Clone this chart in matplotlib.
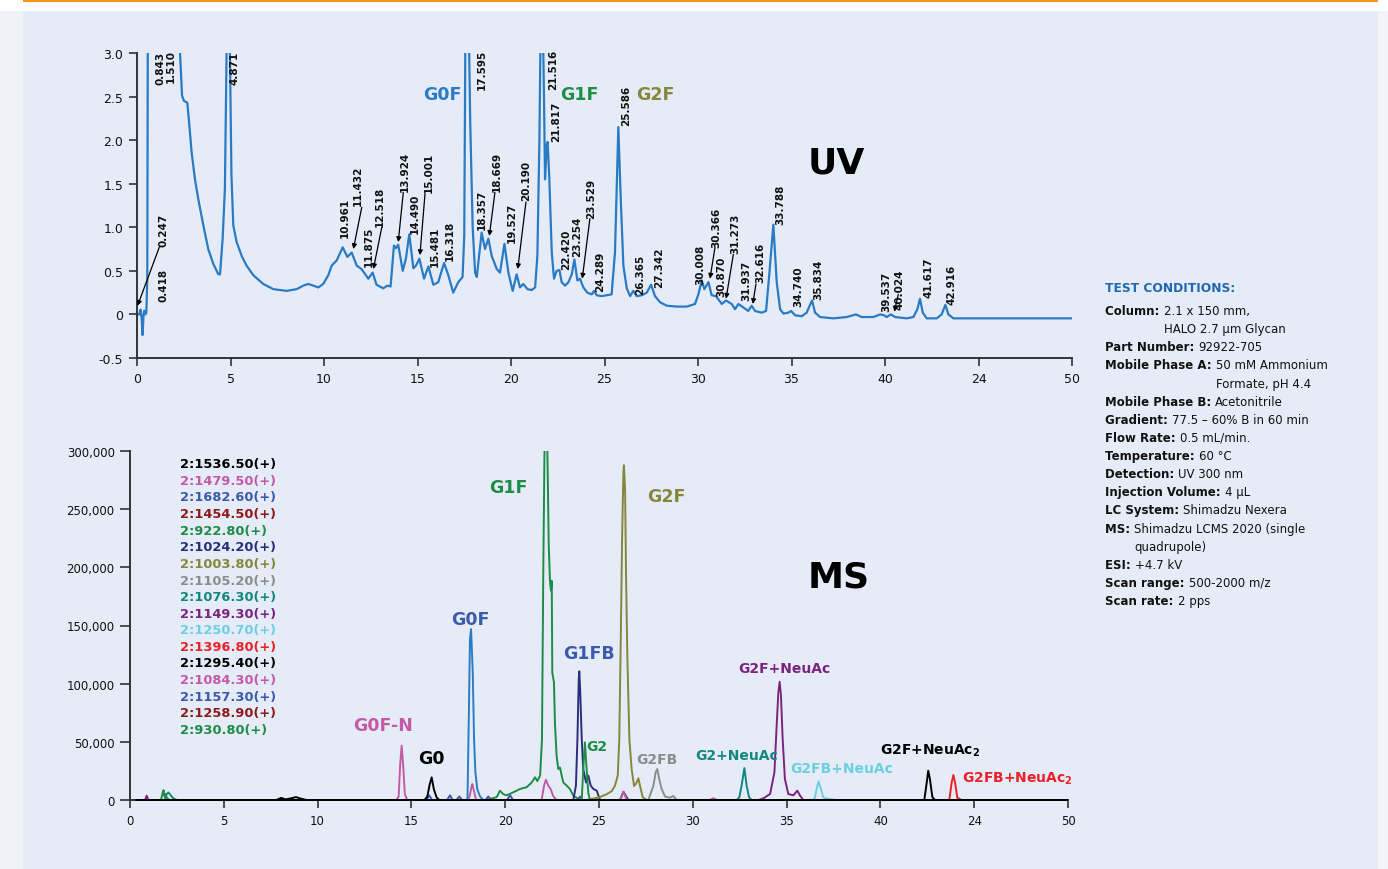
"""
HILIC glycan profile: UV trace (top) and extracted-ion MS traces (bottom)
with the test conditions listed on the right.
"""

import matplotlib
matplotlib.use('Agg')
import matplotlib.pyplot as plt
from matplotlib.patches import Rectangle
from matplotlib.ticker import FuncFormatter

# ============================================================
# DATA
# ============================================================

# UV chromatogram (time [min], absorbance)
uv_time = [0.00, 0.12, 0.19, 0.25, 0.30, 0.35, 0.39, 0.44, 0.50, 0.55, 0.58, 1.50,
           2.25, 2.30, 2.41, 2.51, 2.69, 2.80, 2.92, 3.10, 3.28, 3.55, 3.81, 4.08,
           4.35, 4.44, 4.58, 4.70, 4.79, 4.88, 4.97, 5.05, 5.15, 5.33, 5.60, 5.86,
           6.22, 6.75, 7.29, 8.00, 8.54, 8.89, 9.16, 9.43, 9.70, 9.96, 10.23, 10.41,
           10.68, 11.00, 11.25, 11.48, 11.75, 12.01, 12.37, 12.60, 12.81, 13.17, 13.39,
           13.56, 13.74, 13.85, 13.97, 14.21, 14.38, 14.56, 14.78, 14.92, 15.10, 15.35,
           15.58, 15.85, 16.11, 16.42, 16.65, 16.91, 17.18, 17.41, 17.50, 17.56, 17.65,
           17.75, 17.82, 17.95, 18.08, 18.17, 18.43, 18.61, 18.79, 18.97, 19.24, 19.41,
           19.65, 19.86, 20.09, 20.30, 20.48, 20.66, 20.88, 21.11, 21.29, 21.41, 21.52,
           21.59, 21.70, 21.77, 21.82, 21.91, 21.96, 22.05, 22.18, 22.30, 22.44, 22.59,
           22.71, 22.89, 23.07, 23.25, 23.39, 23.55, 23.69, 23.87, 24.08, 24.32, 24.44,
           24.58, 24.85, 25.12, 25.38, 25.56, 25.74, 25.87, 26.01, 26.19, 26.37, 26.54,
           26.72, 26.99, 27.26, 27.49, 27.70, 27.97, 28.33, 28.86, 29.40, 29.84, 30.02,
           30.20, 30.34, 30.56, 30.73, 30.96, 31.27, 31.50, 31.80, 31.98, 32.16, 32.43,
           32.69, 32.87, 33.05, 33.41, 33.64, 33.82, 34.03, 34.21, 34.39, 34.57, 34.83,
           34.98, 35.19, 35.55, 35.81, 35.99, 36.10, 36.26, 36.53, 37.24, 37.95, 38.45,
           38.75, 39.38, 39.74, 39.95, 40.09, 40.31, 40.54, 41.16, 41.52, 41.73, 41.87,
           42.02, 42.23, 42.77, 43.03, 43.23, 43.39, 43.66, 45.08, 46.87, 48.50, 50.00]
uv_abs = [0.00, 0.00, 0.055, -0.05, -0.236, 0.00, 0.043, 0.00, 0.02, 0.40, 3.50, 4.50,
          3.30, 3.00, 2.51, 2.45, 2.43, 2.17, 1.86, 1.55, 1.32, 1.02, 0.75, 0.58,
          0.46, 0.46, 0.87, 1.44, 3.00, 3.60, 3.00, 1.60, 1.02, 0.83, 0.67, 0.56,
          0.45, 0.35, 0.29, 0.27, 0.29, 0.33, 0.35, 0.33, 0.31, 0.35, 0.45, 0.56,
          0.62, 0.77, 0.66, 0.71, 0.56, 0.52, 0.41, 0.48, 0.34, 0.30, 0.33,
          0.32, 0.79, 0.76, 0.80, 0.50, 0.64, 0.92, 0.53, 0.56, 0.64, 0.41,
          0.55, 0.34, 0.37, 0.59, 0.45, 0.25, 0.37, 0.43, 0.90, 3.20, 3.60,
          3.20, 2.20, 1.00, 0.48, 0.43, 0.94, 0.75, 0.87, 0.67, 0.52, 0.48,
          0.81, 0.48, 0.27, 0.46, 0.31, 0.35, 0.29, 0.28, 0.31, 0.67, 2.01,
          3.40, 3.40, 2.40, 1.55, 1.94, 1.98, 1.55, 0.71, 0.41, 0.50, 0.51,
          0.37, 0.33, 0.37, 0.46, 0.63, 0.39, 0.41, 0.31, 0.25, 0.23, 0.27,
          0.22, 0.21, 0.22, 0.23, 0.71, 2.15, 1.32, 0.56, 0.30, 0.21, 0.27,
          0.21, 0.22, 0.25, 0.34, 0.21, 0.14, 0.10, 0.09, 0.09, 0.12, 0.23,
          0.39, 0.29, 0.37, 0.22, 0.21, 0.12, 0.16, 0.12, 0.06, 0.12, 0.08,
          0.04, 0.10, 0.04, 0.02, 0.04, 0.48, 1.03, 0.37, 0.06, 0.01, 0.02,
          0.04, -0.01, -0.02, 0.02, 0.11, 0.16, 0.02, -0.03, -0.045, -0.03, 0.00,
          -0.03, -0.03, 0.00, -0.01, -0.03, 0.00, -0.03, -0.045, -0.03, 0.06, 0.18,
          0.02, -0.045, -0.045, 0.00, 0.11, 0.00, -0.045, -0.045, -0.045, -0.045, -0.045]

uv_peak_names = ['0.843', '1.510', '4.871', '0.247', '0.418', '10.961', '11.432',
                 '11.875', '12.518', '13.924', '14.490', '15.001', '15.481', '16.318',
                 '17.595', '18.357', '18.669', '19.527', '20.190', '21.516', '21.817',
                 '22.420', '23.254', '23.529', '24.289', '25.586', '26.365', '27.342',
                 '30.008', '30.366', '30.870', '31.273', '31.937', '32.616', '33.788',
                 '34.740', '35.834', '39.537', '40.024', '41.617', '42.916']

# MS extracted-ion traces, listed in legend order (time [min], intensity)
ms_ions = ['2:1536.50(+)', '2:1479.50(+)', '2:1682.60(+)', '2:1454.50(+)',
           '2:922.80(+)', '2:1024.20(+)', '2:1003.80(+)', '2:1105.20(+)',
           '2:1076.30(+)', '2:1149.30(+)', '2:1250.70(+)', '2:1396.80(+)',
           '2:1295.40(+)', '2:1084.30(+)', '2:1157.30(+)', '2:1258.90(+)',
           '2:930.80(+)']

t_1536 = [0.35, 7.8, 8.05, 8.3, 8.6, 8.85, 9.1, 9.4, 15.7, 15.85, 15.97, 16.08, 16.2, 16.35, 16.5, 50]
i_1536 = [0, 0, 1800, 500, 1500, 2500, 1200, 0, 0, 3000, 13000, 19500, 9000, 2000, 0, 0]

t_1479 = [0.35, 14.2, 14.32, 14.4, 14.48, 14.56, 14.65, 14.78, 18.0, 18.1, 18.2, 18.25, 18.33, 18.45, 50]
i_1479 = [0, 0, 3000, 30000, 46700, 30000, 5000, 0, 0, 3000, 11000, 13700, 8000, 0, 0]

t_1682 = [0.35, 17.95, 17.99, 18.07, 18.12, 18.18, 18.27, 18.34, 18.41, 18.51, 18.66, 18.84, 50]
i_1682 = [0, 0, 2000, 81000, 138000, 146900, 109700, 52400, 24000, 9500, 3000, 0, 0]

t_1454 = [0.35, 50]
i_1454 = [0, 0]

t_922 = [0.35, 19.0, 19.55, 19.72, 19.9, 20.08, 20.43, 20.79, 21.14, 21.41, 21.59, 21.71,
         21.86, 21.96, 22.03, 22.10, 22.17, 22.24, 22.32, 22.39, 22.44, 22.48, 22.51,
         22.6, 22.65, 22.74, 22.83, 22.92, 23.01, 23.1, 23.28, 23.45, 23.63, 23.99, 50]
i_922 = [0, 0, 2500, 8000, 5000, 4000, 6600, 9500, 11000, 15000, 19500, 16300,
         21000, 52000, 196000, 310000, 340000, 310000, 220000, 187000, 180000, 188400, 109700,
         101000, 66700, 38000, 26600, 28000, 21000, 15000, 12300, 9500, 3700, 0, 0]

t_1024 = [0.35, 23.63, 23.77, 23.85, 23.92, 23.95, 24.0, 24.08, 24.16, 24.31, 24.43, 24.56,
          24.7, 24.88, 25.05, 26.12, 26.3, 26.56, 50]
i_1024 = [0, 0, 12300, 52400, 104000, 110600, 92500, 52400, 26600, 15000, 21000, 12300,
          9500, 8000, 0, 0, 7100, 0, 0]

t_1003 = [0.35, 24.34, 25.05, 25.41, 25.68, 25.85, 26.0, 26.08, 26.16, 26.23, 26.3, 26.33,
          26.39, 26.44, 26.51, 26.62, 26.74, 26.87, 26.97, 27.1, 27.19, 27.33, 27.54, 50]
i_1003 = [0, 0, 2500, 5000, 7600, 12300, 21000, 52000, 138000, 224000, 281500, 287800,
          267000, 195600, 124000, 52000, 26600, 12000, 14000, 18600, 12000, 2500, 0, 0]

t_1105 = [0.35, 27.63, 27.9, 28.02, 28.11, 28.21, 28.34, 28.52, 28.78, 28.96, 29.14, 50]
i_1105 = [0, 0, 12300, 23800, 26600, 18000, 9500, 3000, 2000, 3500, 0, 0]

t_1076 = [0.35, 1.85, 1.95, 2.05, 2.15, 2.3, 2.5, 32.35, 32.48, 32.6, 32.75, 32.87, 33.0, 33.14, 50]
i_1076 = [0, 0, 5000, 6500, 4500, 1500, 0, 0, 2300, 12300, 27500, 12300, 2300, 0, 0]

t_1149 = [0.35, 0.8, 0.89, 0.98, 33.5, 33.76, 34.12, 34.35, 34.47, 34.56, 34.63, 34.7,
          34.79, 34.91, 35.09, 35.36, 35.57, 35.71, 35.89, 50]
i_1149 = [0, 0, 3700, 0, 0, 1400, 5200, 23800, 63800, 92500, 101600, 89600,
          52400, 18000, 5200, 4000, 8000, 4000, 0, 0]

t_1250 = [0.35, 36.4, 36.51, 36.62, 36.71, 36.82, 36.96, 37.22, 37.67, 50]
i_1250 = [0, 0, 2000, 11000, 16000, 10000, 2000, 1000, 0, 0]

t_1396 = [0.35, 43.67, 43.8, 43.89, 43.98, 44.1, 44.33, 50]
i_1396 = [0, 0, 15000, 21500, 15000, 2000, 0, 0]

t_1295 = [0.35, 42.34, 42.47, 42.55, 42.64, 42.77, 42.91, 50]
i_1295 = [0, 0, 15000, 25200, 18000, 2500, 0, 0]

t_1084 = [0.35, 21.94, 22.07, 22.17, 22.3, 22.42, 22.57, 22.74, 26.1, 26.21, 26.3, 26.48,
          30.9, 31.1, 31.3, 50]
i_1084 = [0, 0, 12300, 17400, 12300, 9500, 3000, 0, 0, 3000, 7100, 0,
          0, 1500, 0, 0]

t_1157 = [0.35, 15.8, 15.95, 16.1, 16.9, 17.06, 17.2, 17.4, 17.55, 17.7, 18.95, 19.1, 19.25,
          20.1, 20.26, 20.42, 23.85, 23.99, 24.12, 50]
i_1157 = [0, 0, 4000, 0, 0, 4000, 0, 0, 3000, 0, 0, 3000, 0,
          0, 4000, 0, 0, 3000, 0, 0]

t_1258 = [0.35, 50]
i_1258 = [0, 0]

t_930 = [0.35, 1.65, 1.74, 1.79, 1.84, 1.9, 1.96, 2.1, 24.08, 24.16, 24.25, 24.34, 24.43, 24.52, 50]
i_930 = [0, 0, 6000, 8500, 3000, 5000, 2000, 0, 0, 26600, 49500, 26600, 6000, 0, 0]

ms_times = [t_1536, t_1479, t_1682, t_1454, t_922, t_1024, t_1003, t_1105,
            t_1076, t_1149, t_1250, t_1396, t_1295, t_1084, t_1157, t_1258, t_930]
ms_ints = [i_1536, i_1479, i_1682, i_1454, i_922, i_1024, i_1003, i_1105,
           i_1076, i_1149, i_1250, i_1396, i_1295, i_1084, i_1157, i_1258, i_930]

x_ticks = [0, 5, 10, 15, 20, 25, 30, 35, 40, 45, 50]
x_tick_labels = ['0', '5', '10', '15', '20', '25', '30', '35', '40', '24', '50']

cond_labels = ['Column:', None, 'Part Number:', 'Mobile Phase A:', None, 'Mobile Phase B:',
               'Gradient:', 'Flow Rate:', 'Temperature:', 'Detection:', 'Injection Volume:',
               'LC System:', 'MS:', None, 'ESI:', 'Scan range:', 'Scan rate:']
cond_values = ['2.1 x 150 mm,', 'HALO 2.7 µm Glycan', '92922-705', '50 mM Ammonium',
               'Formate, pH 4.4', 'Acetonitrile', '77.5 – 60% B in 60 min', '0.5 mL/min.',
               '60 °C', 'UV 300 nm', '4 µL', 'Shimadzu Nexera', 'Shimadzu LCMS 2020 (single',
               'quadrupole)', '+4.7 kV', '500-2000 m/z', '2 pps']

# ============================================================
# STYLE / LAYOUT
# ============================================================

W, H = 1388, 870
UV_BLUE = '#2a7bc4'
ms_colors = ['#000000', '#c35aa6', '#3c5aaa', '#8c1c1c', '#1d8c46', '#2b2d7c',
             '#86863a', '#8c8c8c', '#12877f', '#7b237f', '#6ccfe0', '#ec2027',
             '#000000', '#c35aa6', '#3c5aaa', '#8c1c1c', '#1d8c46']
trace_colors = list(ms_colors)
trace_colors[2] = '#2b7cc6'   # G0F trace is drawn lighter than its legend entry
AXIS = '#333333'
MS_PAD = 1800                 # room below zero so the baseline traces are not cut in half


def fx(px):
    return px / W


def fy(py):
    return 1 - py / H


plt.rcParams['font.family'] = 'DejaVu Sans'
plt.rcParams['mathtext.fontset'] = 'dejavusans'

fig = plt.figure(figsize=(W / 100, H / 100), dpi=100)
fig.patch.set_facecolor('white')

# backdrop: light blue panel, orange rule, pale side strips
fig.add_artist(Rectangle((fx(23), 0), fx(1378 - 23), 1 - 12 / H, transform=fig.transFigure,
                         facecolor='#e6ecf7', edgecolor='none', zorder=-5))
fig.add_artist(Rectangle((0, 0), fx(23), 1 - 12 / H, transform=fig.transFigure,
                         facecolor='#f0f2f7', edgecolor='none', zorder=-5))
fig.add_artist(Rectangle((fx(1378), 0), fx(10), 1 - 12 / H, transform=fig.transFigure,
                         facecolor='#f2f4f9', edgecolor='none', zorder=-5))
fig.add_artist(Rectangle((fx(23), fy(3)), fx(1378 - 23), 3 / H, transform=fig.transFigure,
                         facecolor='#f7941d', edgecolor='none', zorder=-4))


def style_axes(ax, label_size):
    ax.set_facecolor('none')
    for s in ['top', 'right']:
        ax.spines[s].set_visible(False)
    for s in ['left', 'bottom']:
        ax.spines[s].set_color(AXIS)
        ax.spines[s].set_linewidth(1.4)
    ax.tick_params(direction='out', length=6, width=1.2, color=AXIS,
                   labelsize=label_size, labelcolor='#111111', pad=4)
    ax.set_xlim(0, 50)
    ax.set_xticks(x_ticks)
    ax.set_xticklabels(x_tick_labels, fontsize=9)


# ============================================================
# UV PANEL
# ============================================================

ax1 = fig.add_axes([fx(137), fy(359), fx(935), 305 / H])
style_axes(ax1, 9)
ax1.set_ylim(-0.5, 3.0)
ax1.set_yticks([-0.5, 0, 0.5, 1.0, 1.5, 2.0, 2.5, 3.0])
ax1.set_yticklabels(['-0.5', '0', '0.5', '1.0', '1.5', '2.0', '2.5', '3.0'])
ax1.plot(uv_time, uv_abs, color=UV_BLUE, lw=1.6, solid_joinstyle='round', zorder=2)

# rotated retention-time labels: (time, absorbance) of the label's start
uv_label_pos = [(1.23, 2.64), (1.82, 2.67), (5.24, 2.64), (1.41, 0.785), (1.41, 0.157),
                (11.12, 0.885), (11.83, 1.25), (12.37, 0.56), (13.0, 1.02), (14.33, 1.42),
                (14.87, 0.94), (15.58, 1.40), (15.94, 0.56), (16.74, 0.62), (18.43, 2.59),
                (18.43, 0.98), (19.24, 1.42), (20.04, 0.83), (20.80, 1.31), (22.26, 2.59),
                (22.41, 1.99), (22.94, 0.52), (23.51, 0.67), (24.26, 1.11), (24.76, 0.27),
                (26.15, 2.17), (26.9, 0.23), (27.93, 0.31), (30.14, 0.35), (31.0, 0.77),
                (31.27, 0.21), (31.98, 0.71), (32.6, 0.16), (33.32, 0.37), (34.39, 1.04),
                (35.36, 0.10), (36.43, 0.18), (40.09, 0.04), (40.8, 0.06), (42.32, 0.20),
                (43.57, 0.12)]
for name, (t, a) in zip(uv_peak_names, uv_label_pos):
    ax1.text(t, a, name, rotation=90, ha='center', va='bottom', fontsize=7.5,
             fontweight='bold', color='#111111', clip_on=False)

# arrows from labels down to shoulder peaks: (start, tip)
uv_arrows = [((1.19, 0.77), (0.03, 0.10)), ((12.02, 1.23), (11.57, 0.75)),
             ((13.09, 1.00), (12.64, 0.52)), ((14.24, 1.40), (13.97, 0.83)),
             ((15.40, 1.38), (15.13, 0.68)), ((19.14, 1.40), (18.84, 0.90)),
             ((20.80, 1.29), (20.36, 0.52)), ((24.22, 1.10), (23.81, 0.41)),
             ((30.91, 0.77), (30.64, 0.41)), ((31.89, 0.69), (31.50, 0.18)),
             ((33.10, 0.35), (32.93, 0.12)), ((40.71, 0.23), (40.50, 0.03))]
for start, tip in uv_arrows:
    ax1.annotate('', xy=tip, xytext=start, annotation_clip=False,
                 arrowprops=dict(arrowstyle='-|>', color='black', lw=0.9,
                                 mutation_scale=7, shrinkA=0, shrinkB=0))

fig.text(fx(422.7), fy(100), 'G0F', color=UV_BLUE, fontsize=12.5, fontweight='bold', va='baseline')
fig.text(fx(560), fy(100), 'G1F', color='#1d8c46', fontsize=12.5, fontweight='bold', va='baseline')
fig.text(fx(636), fy(100), 'G2F', color='#86863a', fontsize=12.5, fontweight='bold', va='baseline')
fig.text(fx(808), fy(174), 'UV', color='black', fontsize=26, fontweight='bold', va='baseline')

# ============================================================
# MS PANEL
# ============================================================

ms_bottom = 801 + 349 * MS_PAD / 300000
ax2 = fig.add_axes([fx(130), fy(ms_bottom), fx(938), (ms_bottom - 452) / H])
style_axes(ax2, 8.5)
ax2.set_ylim(-MS_PAD, 300000)
ax2.spines['bottom'].set_position(('data', 0))
ax2.spines['left'].set_bounds(0, 300000)
ax2.set_yticks(range(0, 300001, 50000))
ax2.yaxis.set_major_formatter(FuncFormatter(lambda v, p: f'{int(v):,}'))
ax2.tick_params(axis='y', length=7)

draw_order = [i for i in range(len(ms_ions)) if ms_colors[i] != '#000000'] + \
             [i for i in range(len(ms_ions)) if ms_colors[i] == '#000000']
for k, i in enumerate(draw_order):
    ax2.plot(ms_times[i], ms_ints[i], color=trace_colors[i], lw=1.4,
             solid_joinstyle='round', zorder=3 + k * 0.01)

for k, (ion, col) in enumerate(zip(ms_ions, ms_colors)):
    fig.text(fx(180), fy(468.3 + k * 16.6), ion, color=col, fontsize=9.4,
             fontweight='bold', va='baseline')

big = 12.5
small = 10
ms_peak_text = [
    ('G1F', 489, 493.3, '#1d8c46', big),
    ('G2F', 647.3, 502.3, '#86863a', big),
    ('G0F', 451, 625, '#3c5aaa', big),
    ('G1FB', 563.3, 659, '#3c5aaa', big),
    ('G0F-N', 352.7, 730.7, '#c35aa6', big),
    ('G0', 418.3, 764, '#000000', big),
    ('G2', 586.7, 750.7, '#1d8c46', small),
    ('G2FB', 636.7, 764, '#8c8c8c', small),
    ('G2+NeuAc', 695, 760, '#12877f', small),
    ('G2F+NeuAc', 738.3, 673.3, '#7b237f', small),
    ('G2FB+NeuAc', 790, 772.7, '#6ccfe0', small),
    (r'G2F+NeuAc$_\mathbf{2}$', 880, 755, '#000000', small),
    (r'G2FB+NeuAc$_\mathbf{2}$', 961.7, 782.7, '#ec2027', small),
]
for txt, x, y, col, size in ms_peak_text:
    fig.text(fx(x), fy(y), txt, color=col, fontsize=size, fontweight='bold', va='baseline')

fig.text(fx(808), fy(588), 'MS', color='black', fontsize=26, fontweight='bold', va='baseline')

# ============================================================
# TEST CONDITIONS
# ============================================================

fig.text(fx(1105), fy(291.7), 'TEST CONDITIONS:', color='#2068b0', fontsize=8.8,
         fontweight='bold', va='baseline')

renderer = fig.canvas.get_renderer()
value_x = fx(1105)
for k, (lab, val) in enumerate(zip(cond_labels, cond_values)):
    y = fy(315 + k * 18.13)
    if lab is not None:
        t = fig.text(fx(1105), y, lab + ' ', color='#111111', fontsize=8.5,
                     fontweight='bold', va='baseline')
        value_x = fx(1105 + t.get_window_extent(renderer).width)
    fig.text(value_x, y, val, color='#111111', fontsize=8.5, va='baseline')

plt.savefig('out.png', dpi=100)
